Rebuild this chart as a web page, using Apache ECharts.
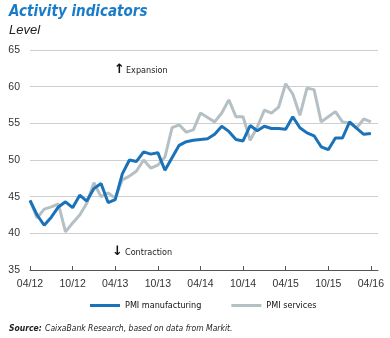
<!DOCTYPE html>
<html>
<head>
<meta charset="utf-8">
<script src="https://cdn.jsdelivr.net/npm/echarts@6/dist/echarts.min.js"></script>
<style>
html,body{margin:0;padding:0;background:#fff;}
#chart{width:390px;height:338px;}
</style>
</head>
<body>
<div id="chart"></div>
<script>
// Months from 04/12 to 04/16
const categories = [
  "04/12","05/12","06/12","07/12","08/12","09/12","10/12","11/12","12/12",
  "01/13","02/13","03/13","04/13","05/13","06/13","07/13","08/13","09/13","10/13","11/13","12/13",
  "01/14","02/14","03/14","04/14","05/14","06/14","07/14","08/14","09/14","10/14","11/14","12/14",
  "01/15","02/15","03/15","04/15","05/15","06/15","07/15","08/15","09/15","10/15","11/15","12/15",
  "01/16","02/16","03/16","04/16"
];
const pmiManufacturing = [
  44.5, 42.5, 41.1, 42.2, 43.6, 44.3, 43.5, 45.2, 44.4,
  46.1, 46.8, 44.2, 44.6, 48.1, 50.0, 49.8, 51.1, 50.8, 51.0, 48.6, 50.3,
  52.0, 52.5, 52.7, 52.8, 52.9, 53.5, 54.6, 53.9, 52.8, 52.6, 54.7, 54.0,
  54.6, 54.3, 54.3, 54.2, 55.9, 54.4, 53.7, 53.3, 51.8, 51.4, 53.0, 53.0,
  55.2, 54.3, 53.5, 53.6
];
const pmiServices = [
  44.5, 42.1, 43.3, 43.6, 44.0, 40.2, 41.4, 42.5, 44.1,
  46.9, 45.0, 45.5, 44.8, 47.3, 47.8, 48.5, 50.0, 48.9, 49.3, 50.4, 54.4,
  54.8, 53.8, 54.1, 56.4, 55.8, 55.2, 56.4, 58.2, 55.9, 55.9, 52.7, 54.5,
  56.8, 56.4, 57.2, 60.4, 59.0, 56.1, 59.8, 59.6, 55.2, 55.9, 56.6, 55.2,
  55.0, 54.4, 55.6, 55.2
];
const yTicks = { min: 35, max: 65, step: 5 };
const seriesNames = ["PMI manufacturing", "PMI services"];

const BLUE = "#1a72b9";
const GREY = "#b5c0c5";
const FONT = "'DejaVu Sans Condensed', 'Liberation Sans', sans-serif";
const FONT2 = "'Liberation Sans', sans-serif";

const chart = echarts.init(document.getElementById('chart'), null, {renderer: 'canvas'});
chart.setOption({
  animation: false,
  backgroundColor: '#fff',
  grid: { left: 30, right: 12, top: 50, bottom: 68 },
  xAxis: {
    type: 'category',
    data: categories,
    boundaryGap: false,
    max: 49,
    axisLine: { show: true, lineStyle: { color: '#555', width: 1 } },
    axisTick: {
      show: true, inside: true, length: 4,
      interval: function (i) { return i % 6 === 0; },
      lineStyle: { color: '#555' }
    },
    axisLabel: {
      interval: function (i) { return i % 6 === 0; },
      color: '#333', fontSize: 10.5, fontFamily: FONT2, margin: 9
    },
    splitLine: { show: false }
  },
  yAxis: {
    type: 'value',
    min: yTicks.min, max: yTicks.max, interval: yTicks.step,
    axisLine: { show: false },
    axisTick: { show: false },
    axisLabel: { color: '#333', fontSize: 10.5, fontFamily: FONT2, margin: 10 },
    splitLine: { lineStyle: { color: '#cfcfcf', width: 1 } }
  },
  legend: {
    bottom: 23, left: 85,
    itemGap: 30, itemWidth: 30, itemHeight: 3,
    icon: 'rect',
    textStyle: { color: '#111', fontSize: 9, fontFamily: FONT },
    data: seriesNames
  },
  series: [
    {
      name: seriesNames[1], type: 'line', data: pmiServices,
      symbol: 'none', lineStyle: { color: GREY, width: 3 }, itemStyle: { color: GREY }, z: 2
    },
    {
      name: seriesNames[0], type: 'line', data: pmiManufacturing,
      symbol: 'none', lineStyle: { color: BLUE, width: 3 }, itemStyle: { color: BLUE }, z: 3
    }
  ],
  graphic: [
    { type: 'text', left: 9, top: 5, style: { text: 'Activity indicators', fill: '#1a7cc8', font: 'italic bold 15px ' + FONT } },
    { type: 'text', left: 9, top: 24, style: { text: 'Level', fill: '#222', font: 'italic 13px ' + FONT2 } },
    { type: 'text', left: 114, top: 63, style: { text: '\u2191', fill: '#111', font: 'bold 13px DejaVu Sans' } },
    { type: 'text', left: 126, top: 66, style: { text: 'Expansion', fill: '#222', font: '9px ' + FONT } },
    { type: 'text', left: 112, top: 245, style: { text: '\u2193', fill: '#111', font: 'bold 13px DejaVu Sans' } },
    { type: 'text', left: 125, top: 248, style: { text: 'Contraction', fill: '#222', font: '9px ' + FONT } },
    { type: 'text', left: 9, top: 323, style: { rich: {
        b: { font: 'italic bold 8.5px ' + FONT, fill: '#222' },
        n: { font: 'italic 8.5px ' + FONT, fill: '#222' }
      }, text: '{b|Source:} {n|CaixaBank Research, based on data from Markit.}' } }
  ]
});
</script>
</body>
</html>
